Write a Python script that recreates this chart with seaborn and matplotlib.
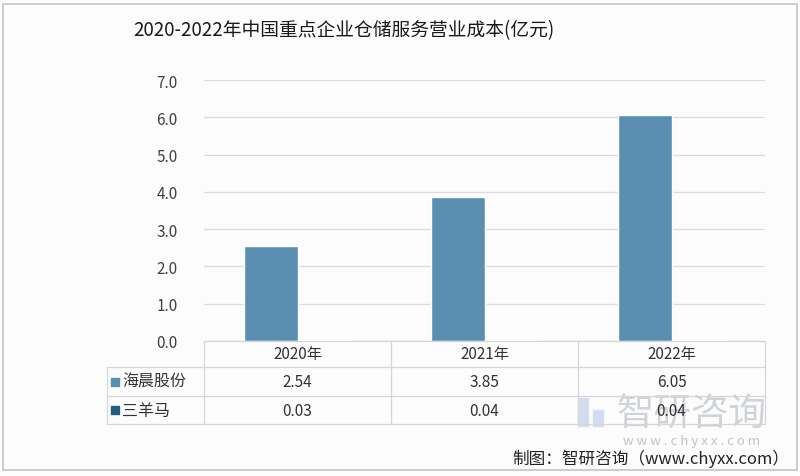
import pandas as pd
import seaborn as sns
import matplotlib.pyplot as plt
from matplotlib.patches import Rectangle
from matplotlib.lines import Line2D

# data
years = ['2020年', '2021年', '2022年']
companies = ['海晨股份', '三羊马']
haichen = [2.54, 3.85, 6.05]
sanyangma = [0.03, 0.04, 0.04]
colors = ['#5a8fb1', '#1e5e80']

df = pd.DataFrame({
    'year': years * 2,
    'company': [companies[0]] * 3 + [companies[1]] * 3,
    'value': haichen + sanyangma,
})

sns.set_style('white')
plt.rcParams['font.family'] = ['Noto Sans CJK SC', 'DejaVu Sans']

W, H = 800, 477
fig = plt.figure(figsize=(8, 4.77), dpi=100)
fig.patch.set_facecolor('#fcfcfd')

def fx(px):
    return px / W

def fy(py):
    return 1 - py / H

# plot area
left, right, top, bottom = 204, 765, 81, 342
ax = fig.add_axes([fx(left), fy(bottom), fx(right - left), fy(top) - fy(bottom)])
ax.set_facecolor('#fcfcfd')
sns.barplot(data=df, x='year', y='value', hue='company', palette=colors,
            width=0.57, saturation=1, legend=False, ax=ax)
ax.set_xlim(-0.5, 2.5)
ax.set_ylim(0, 7)
ax.set_yticks(range(8))
ax.set_yticklabels([f'{v:.1f}' for v in range(8)], fontsize=11, color='#404040')
ax.tick_params(axis='y', length=0, pad=19)
ax.set_xticks([])
ax.set_xlabel('')
ax.set_ylabel('')
ax.grid(axis='y', color='#dcdcdc', linewidth=0.9)
ax.set_axisbelow(True)
for s in ax.spines.values():
    s.set_visible(False)

# title
fig.text(fx(133), fy(31), '2020-2022年中国重点企业仓储服务营业成本(亿元)',
         fontsize=13.5, color='#1a1a1a', va='center', ha='left')

# data table under the plot
line_c = '#d6d6d6'
rows_y = [342, 368, 397, 425]
col_x = [204, 391, 578, 765]
lab_x = 107

def hline(y, x0, x1):
    fig.add_artist(Line2D([fx(x0), fx(x1)], [fy(y), fy(y)], color=line_c, lw=0.9))

def vline(x, y0, y1):
    fig.add_artist(Line2D([fx(x), fx(x)], [fy(y0), fy(y1)], color=line_c, lw=0.9))

hline(rows_y[0], col_x[0], col_x[-1])
for y in rows_y[1:]:
    hline(y, lab_x, col_x[-1])
for x in col_x:
    vline(x, rows_y[0], rows_y[-1])
vline(lab_x, rows_y[1], rows_y[-1])

for i, yr in enumerate(years):
    cx = (col_x[i] + col_x[i + 1]) / 2
    fig.text(fx(cx), fy((rows_y[0] + rows_y[1]) / 2), yr, fontsize=11,
             color='#333333', ha='center', va='center')

series = [haichen, sanyangma]
for r, (name, vals) in enumerate(zip(companies, series)):
    cy = (rows_y[r + 1] + rows_y[r + 2]) / 2
    fig.add_artist(Rectangle((fx(111), fy(cy + 4)), fx(8), fy(cy - 4) - fy(cy + 4),
                             color=colors[r], transform=fig.transFigure))
    fig.text(fx(122), fy(cy), name, fontsize=11.5, color='#333333',
             ha='left', va='center')
    for i, v in enumerate(vals):
        cx = (col_x[i] + col_x[i + 1]) / 2
        fig.text(fx(cx), fy(cy), f'{v:.2f}', fontsize=11, color='#333333',
                 ha='center', va='center', zorder=5)

# watermark (logo + name), sits behind the last table cell like in the source
fig.add_artist(Rectangle((fx(577), fy(428)), fx(12), fy(398) - fy(428),
                         facecolor='#a9bde0', alpha=0.5, transform=fig.transFigure))
fig.add_artist(Rectangle((fx(592), fy(428)), fx(12), fy(410) - fy(428),
                         facecolor='#a9bde0', alpha=0.5, transform=fig.transFigure))
fig.text(fx(616), fy(414), '智研咨询', fontsize=27, color='#a6abb2', alpha=0.5,
         ha='left', va='center', zorder=1)
fig.text(fx(692), fy(442), 'w w w . c h y x x . c o m', fontsize=9.5,
         color='#a6abb2', alpha=0.7, ha='center', va='center')

# source
fig.text(fx(789), fy(459), '制图：智研咨询（www.chyxx.com）', fontsize=12,
         color='#222222', ha='right', va='center')

# outer frame
fig.add_artist(Rectangle((fx(3), fy(471)), fx(794), fy(5) - fy(471), fill=False,
                         edgecolor='#c4c4c4', lw=1.2, transform=fig.transFigure))

fig.savefig('out.png', dpi=100, facecolor=fig.get_facecolor())
